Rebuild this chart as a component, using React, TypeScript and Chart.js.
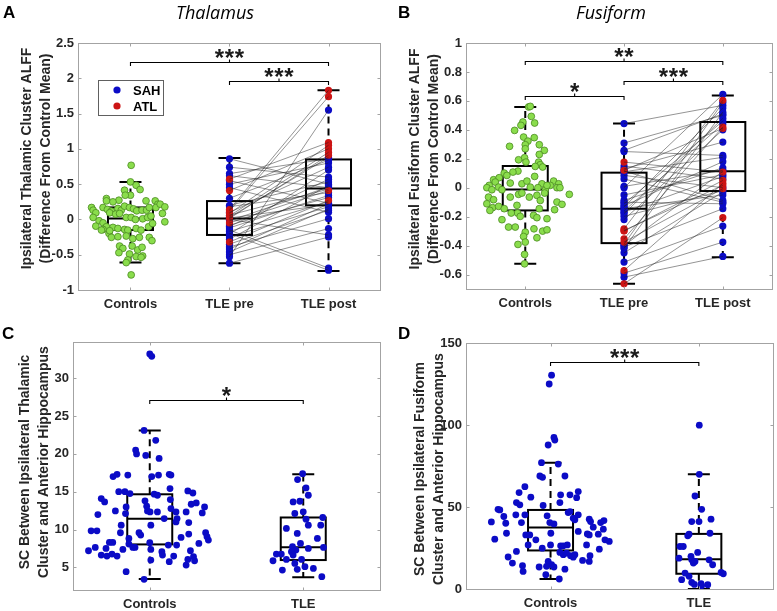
import React, { useEffect, useRef } from 'react';
import { Chart, registerables } from 'chart.js';

Chart.register(...registerables);

// ---------------- data ----------------
const ALFF_GROUPS = ['Controls', 'TLE pre', 'TLE post'];
const SC_GROUPS = ['Controls', 'TLE'];
const LEGEND_LABELS = ['SAH', 'ATL'];

const thalYTicks = [-1, -0.5, 0, 0.5, 1, 1.5, 2, 2.5];
const fusiYTicks = [-0.6, -0.4, -0.2, 0, 0.2, 0.4, 0.6, 0.8, 1];
const scThalYTicks = [5, 10, 15, 20, 25, 30];
const scFusiYTicks = [0, 50, 100, 150];

// controls: [horizontal jitter, value]
const thalControls = [
  [0.007, 0.767], [0, 0.532], [0.057, 0.484], [0.097, 0.423], [-0.06, 0.414], [0, 0.343], [-0.053, 0.343],
  [-0.117, 0.272], [-0.243, 0.296], [-0.243, 0.263], [-0.177, 0.249], [0.157, 0.263], [0.25, 0.263],
  [0.277, 0.216], [0.257, 0.169], [-0.393, 0.169], [-0.377, 0.131], [-0.35, 0.094], [-0.377, 0.028],
  [-0.277, 0.169], [-0.233, 0.141], [-0.193, 0.117], [-0.127, 0.155], [-0.093, 0.131], [-0.06, 0.188],
  [-0.01, 0.169], [0.03, 0.15], [0.063, 0.122], [0.117, 0.131], [0.163, 0.131], [0.19, 0.169],
  [-0.21, 0.094], [-0.15, 0.075], [-0.11, 0.084], [-0.043, 0.028], [0.007, 0.028], [0.05, 0.0],
  [0.123, 0.009], [0.173, 0.028], [0.207, 0.047], [-0.317, -0.019], [-0.35, -0.095], [-0.277, -0.048],
  [-0.243, -0.104], [-0.277, -0.142], [-0.217, -0.198], [-0.177, -0.113], [-0.127, -0.128], [-0.06, -0.142],
  [-0.027, -0.151], [0.057, -0.128], [0.107, -0.151], [0.183, -0.104], [0.223, -0.057], [-0.21, -0.16],
  [-0.293, -0.151], [-0.193, -0.254], [-0.127, -0.245], [-0.043, -0.235], [0.023, -0.273], [0.09, -0.254],
  [0.19, -0.254], [0.217, -0.301], [-0.11, -0.377], [-0.077, -0.41], [0.017, -0.377], [0.073, -0.433],
  [0.117, -0.395], [-0.117, -0.471], [-0.01, -0.49], [0.057, -0.527], [0.123, -0.518], [-0.027, -0.574],
  [0.107, -0.537], [-0.043, -0.612], [0.007, -0.786], [0.3, 0.216], [0.347, 0.178], [0.323, 0.085],
  [0.347, -0.034],
];
const thalPreATL = [0.14, 0.12, 0.57, 0.085, 0.41, 0.05, 0.014, -0.05, -0.32];
const thalPostATL = [1.83, 1.74, 1.09, 1.05, 1.0, 0.95, 0.91, 0.41, 0.27];
const thalPreSAH = [0.86, 0.74, 0.65, 0.62, 0.55, 0.5, 0.45, 0.3, 0.2, 0.18, 0.1, 0.06, 0.03, 0.02, 0.0, -0.02,
  -0.08, -0.1, -0.12, -0.15, -0.17, -0.2, -0.21, -0.25, -0.28, -0.35, -0.39, -0.42, -0.46, -0.5, -0.53, -0.62];
const thalPostSAH = [0.5, 0.6, 0.86, 0.45, 0.23, 0.8, 0.1, 0.84, 0.53, 0.38, 0.74, 0.43, 0.88, 0.21, -0.22, 0.46,
  0.31, 0.57, 0.34, -0.69, 0.25, -0.72, 0.7, 0.18, 0.48, 0.13, 0.01, 0.22, 0.15, -0.13, 1.55, -0.25];
// [lower whisker, q1, median, q3, upper whisker]
const thalBoxes = [
  [-0.61, -0.15, 0.014, 0.17, 0.53],
  [-0.62, -0.22, 0.014, 0.26, 0.87],
  [-0.73, 0.2, 0.44, 0.85, 1.83],
];
const thalSig = [
  { from: 1, to: 3, y: 2.236, stars: '***' },
  { from: 2, to: 3, y: 1.967, stars: '***' },
];

const fusiControls = [
  [0.034, 0.558], [0.051, 0.562], [0.061, 0.493], [-0.024, 0.454], [-0.044, 0.431], [0.095, 0.447],
  [-0.108, 0.396], [-0.017, 0.35], [0.091, 0.346], [0.027, 0.322], [0, 0.297], [-0.159, 0.286], [0.142, 0.297],
  [0, 0.269], [0.193, 0.258], [0.142, 0.23], [-0.007, 0.207], [-0.068, 0.193], [0.007, 0.177], [0.135, 0.177],
  [0.152, 0.159], [0.101, 0.147], [0.176, 0.143], [-0.213, 0.101], [-0.074, 0.115], [-0.125, 0.108],
  [-0.186, 0.085], [0.095, 0.078], [-0.321, 0.055], [-0.264, 0.069], [-0.304, 0.039], [-0.152, 0.032],
  [-0.034, 0.027], [0.017, 0.046], [0.169, 0.027], [0.287, 0.046], [0.338, 0.027], [-0.365, 0.016],
  [-0.389, 0.0], [-0.338, -0.014], [-0.27, 0.004], [-0.236, -0.014], [0.051, 0.004], [0.128, 0.0],
  [0.203, -0.014], [0.253, 0.016], [0.321, 0.0], [0.351, 0.0], [0.22, 0.016], [0.446, -0.046],
  [-0.372, -0.065], [-0.321, -0.083], [-0.389, -0.111], [-0.331, -0.138], [-0.358, -0.157], [-0.27, -0.129],
  [-0.213, -0.145], [-0.152, -0.065], [-0.068, -0.046], [-0.034, -0.037], [0.041, -0.065], [0.118, -0.053],
  [0.152, -0.088], [0.196, -0.037], [0.321, -0.099], [0.372, -0.115], [0.297, -0.152], [-0.084, -0.122],
  [0.142, -0.145], [-0.078, -0.175], [-0.142, -0.175], [-0.051, -0.198], [0.084, -0.191], [0.118, -0.207],
  [-0.236, -0.221], [0.22, -0.214], [-0.169, -0.272], [-0.101, -0.272], [0.088, -0.284], [0.176, -0.3],
  [0.22, -0.291], [0, -0.307], [-0.017, -0.337], [0.118, -0.346], [-0.074, -0.392], [0, -0.376],
  [-0.007, -0.461], [-0.007, -0.526],
];
const fusiPreATL = [0.177, 0.12, -0.284, -0.295, -0.3, -0.353, -0.376, -0.572, -0.664];
const fusiPostATL = [0.108, 0.41, 0.604, 0.016, 0.05, 0.419, -0.007, 0.03, -0.207];
const fusiPreSAH = [0.443, 0.309, 0.258, 0.25, 0.15, 0.13, 0.115, 0.11, 0.085, 0.06, 0.009, 0.0, -0.05, -0.088,
  -0.1, -0.111, -0.125, -0.134, -0.145, -0.16, -0.169, -0.18, -0.198, -0.22, -0.392, -0.4, -0.41, -0.42, -0.45,
  -0.514, -0.59, -0.618];
const fusiPostSAH = [0.569, 0.5, 0.51, 0.223, 0.06, 0.315, -0.088, 0.21, 0.0, -0.1, 0.12, 0.645, 0.09, 0.138,
  -0.111, 0.46, 0.18, 0.55, -0.05, 0.44, 0.078, 0.48, -0.02, 0.4, 0.59, 0.113, -0.145, 0.523, -0.03, -0.265,
  -0.376, -0.475];
const fusiBoxes = [
  [-0.526, -0.157, -0.012, 0.15, 0.557],
  [-0.664, -0.383, -0.145, 0.104, 0.443],
  [-0.48, -0.023, 0.113, 0.454, 0.638],
];
const fusiSig = [
  { from: 1, to: 3, y: 0.873, stars: '**' },
  { from: 1, to: 2, y: 0.631, stars: '*' },
  { from: 2, to: 3, y: 0.735, stars: '***' },
];

const scThalControls = [
  [0, 33.21], [0.013, 32.9], [-0.037, 23.1], [0.039, 21.8], [-0.092, 20.5], [-0.086, 20.0], [-0.026, 19.8],
  [0.061, 19.4], [-0.239, 17.0], [-0.213, 17.3], [-0.143, 17.2], [0.013, 17.0], [0.057, 17.2], [0.127, 17.3],
  [0.138, 17.2], [-0.202, 15.0], [-0.162, 15.0], [-0.129, 14.75], [0.029, 14.67], [0.05, 14.53], [0.132, 15.41],
  [0.248, 15.1], [0.281, 14.83], [-0.316, 14.09], [-0.294, 13.65], [-0.154, 12.99], [-0.224, 12.46],
  [-0.338, 11.98], [-0.031, 13.79], [-0.02, 13.08], [-0.015, 12.46], [0.002, 12.33], [0.05, 12.33],
  [0.134, 13.96], [0.138, 12.77], [0.171, 12.33], [0.094, 11.45], [0.178, 11.45], [0.171, 11.01],
  [0.237, 12.33], [0.27, 13.34], [0.303, 13.52], [0.357, 12.99], [0.342, 12.2], [-0.158, 12.11],
  [0.254, 10.92], [-0.186, 10.57], [0.007, 10.57], [-0.382, 9.83], [-0.344, 9.83], [-0.191, 9.57],
  [-0.07, 9.57], [-0.059, 9.26], [-0.136, 8.82], [0.204, 8.95], [0.254, 9.39], [0.364, 9.57], [0.373, 9.04],
  [0.382, 8.6], [-0.263, 8.29], [-0.241, 8.29], [-0.136, 8.07], [-0.096, 7.63], [0, 8.25], [0.121, 7.94],
  [0.175, 7.94], [0.32, 8.16], [-0.399, 7.19], [-0.355, 7.63], [-0.285, 7.5], [-0.316, 6.62], [-0.279, 6.49],
  [-0.246, 6.75], [-0.213, 6.49], [-0.175, 7.37], [-0.11, 7.63], [0.007, 7.37], [0.079, 7.06], [0.083, 6.62],
  [0.156, 6.49], [0.127, 5.74], [0.237, 5.3], [0.265, 7.19], [0.248, 6.04], [0.285, 6.4], [0.292, 5.87],
  [0.007, 5.96], [-0.154, 4.42], [-0.037, 3.41],
];
const scThalTLE = [
  [-0.004, 17.39], [-0.037, 16.6], [0.018, 15.5], [0.033, 14.53], [-0.066, 13.65], [-0.022, 13.74],
  [-0.055, 12.12], [0, 12.34], [0.018, 11.37], [0.127, 11.59], [-0.11, 10.14], [0.033, 10.58], [0.114, 10.58],
  [-0.039, 9.48], [0.092, 8.82], [-0.018, 8.16], [-0.07, 7.72], [0.132, 7.63], [0.033, 7.5], [-0.048, 7.28],
  [-0.077, 7.06], [-0.066, 6.62], [-0.175, 6.75], [-0.143, 6.75], [-0.011, 6.05], [-0.197, 5.87],
  [-0.11, 6.05], [-0.055, 5.52], [-0.136, 4.64], [-0.039, 4.73], [0.011, 5.08], [0.066, 4.86], [0.121, 3.76],
];
const scThalBoxes = [
  [3.45, 8.03, 11.41, 14.66, 23.1],
  [3.7, 5.96, 7.67, 11.59, 17.3],
];
const scThalSig = [{ from: 1, to: 2, y: 27.15, stars: '*' }];

const scFusiControls = [
  [0.007, 130.4], [-0.009, 125.0], [0.023, 92.4], [0.029, 90.8], [-0.016, 87.8], [-0.061, 77.0], [0.052, 76.2],
  [-0.072, 68.9], [-0.054, 68.1], [0.097, 68.9], [-0.173, 62.4], [-0.212, 58.8], [-0.133, 56.0], [0.187, 59.4],
  [0.068, 57.4], [0.131, 57.4], [-0.23, 52.7], [-0.207, 51.3], [-0.05, 50.9], [0.063, 52.7], [0.176, 55.7],
  [-0.354, 48.6], [-0.342, 48.2], [-0.315, 44.2], [-0.234, 45.2], [-0.173, 45.2], [-0.196, 40.5],
  [-0.399, 40.9], [-0.302, 40.1], [-0.023, 44.6], [-0.005, 40.5], [0.023, 39.7], [0.119, 46.6], [0.131, 47.2],
  [0.164, 42.2], [0.153, 43.2], [0.187, 45.2], [0.261, 42.6], [0.27, 41.1], [0.288, 37.7], [0.338, 40.5],
  [0.36, 41.7], [0.356, 36.5], [-0.376, 30.4], [-0.297, 34.0], [-0.167, 33.0], [-0.14, 33.0], [-0.099, 30.0],
  [0.002, 34.0], [0.187, 35.1], [0.248, 33.6], [0.261, 33.0], [0.322, 33.4], [0.367, 30.0], [0.396, 29.0],
  [-0.151, 26.9], [-0.056, 24.9], [0, 26.9], [0.068, 26.3], [0.086, 26.3], [0.113, 26.9], [0.243, 26.9],
  [0.329, 24.3], [-0.23, 22.9], [-0.286, 19.5], [-0.257, 15.8], [-0.189, 14.2], [-0.016, 16.8], [0.007, 14.8],
  [0.023, 13.4], [0.086, 20.9], [0.135, 20.3], [0.153, 19.4], [0.164, 20.9], [0.108, 21.9], [0.063, 22.3],
  [0.216, 17.4], [0.261, 16.8], [0.266, 20.3], [0.097, 12.1], [-0.077, 13.4], [-0.185, 10.7], [-0.032, 8.7],
  [0.059, 6.1], [-0.027, 13.8],
];
const scFusiTLE = [
  [0.003, 99.9], [0.003, 69.9], [-0.026, 56.7], [0.019, 48.6], [-0.048, 41.1], [0.001, 41.1], [0.082, 42.6],
  [0.075, 34.0], [-0.075, 32.4], [-0.066, 33.4], [-0.127, 25.9], [-0.105, 25.9], [-0.008, 22.3],
  [-0.134, 18.8], [-0.053, 19.9], [-0.048, 17.8], [-0.026, 16.8], [-0.037, 15.8], [0.069, 17.8], [0.093, 14.8],
  [0.15, 10.1], [0.165, 9.3], [-0.116, 5.7], [-0.066, 7.7], [-0.048, 4.0], [-0.03, 2.8], [0.015, 3.2],
  [0.06, 2.6], [0.019, 2.0], [-0.093, 9.7],
];
const scFusiBoxes = [
  [6.1, 23.5, 37.5, 48.2, 77.0],
  [0, 9.3, 18.2, 33.6, 70.0],
];
const scFusiSig = [{ from: 1, to: 2, y: 138.4, stars: '***' }];

// ---------------- style ----------------
const FONT = '"Liberation Sans", Arial, Helvetica, sans-serif';
const TEXT = '#262626';
const FRAME = '#a3a3a3';
const GREEN = '#8add4c';
const GREEN_EDGE = '#4b8a22';
const BLUE = '#0b0bc6';
const RED = '#cc1414';

type Spec = {
  key: string;
  pos: { left: number; top: number; width: number; height: number };
  area: { l: number; t: number; r: number; b: number };
  xMin: number; xMax: number; yMin: number; yMax: number;
  yTicks: number[]; xLabels: string[];
  datasets: any[];
  boxes: number[][];
  sig: { from: number; to: number; y: number; stars: string }[];
  letter: string; letterPos: [number, number];
  title?: string; titlePos?: [number, number];
  ylabel: string[]; ylabelX: number; ylabelDy: number;
  legend?: boolean;
};

function pts(center: number, arr: number[][]) {
  return arr.map(([dx, v]) => ({ x: center + dx, y: v }));
}

function pairedDatasets(preA: number[], postA: number[], preS: number[], postS: number[]) {
  const ds: any[] = [];
  const addLines = (pre: number[], post: number[]) => {
    pre.forEach((v, i) => {
      ds.push({
        data: [{ x: 2, y: v }, { x: 3, y: post[i] }],
        showLine: true, borderColor: 'rgba(30,30,30,0.8)', borderWidth: 0.6,
        pointRadius: 0, order: 0,
      });
    });
  };
  addLines(preS, postS);
  addLines(preA, postA);
  const dot = (data: any[], color: string, order: number) => ({
    data, pointRadius: 3.6, backgroundColor: color, borderColor: color, borderWidth: 0, order,
  });
  ds.push(dot(preS.map((v) => ({ x: 2, y: v })), BLUE, 2));
  ds.push(dot(postS.map((v) => ({ x: 3, y: v })), BLUE, 2));
  ds.push(dot(preA.map((v) => ({ x: 2, y: v })), RED, 1));
  ds.push(dot(postA.map((v) => ({ x: 3, y: v })), RED, 1));
  return ds;
}

const greenSet = (arr: number[][]) => ({
  data: pts(1, arr), pointRadius: 3.4, backgroundColor: GREEN, borderColor: GREEN_EDGE, borderWidth: 0.8, order: 3,
});
const blueSet = (center: number, arr: number[][]) => ({
  data: pts(center, arr), pointRadius: 3.4, backgroundColor: BLUE, borderColor: BLUE, borderWidth: 0, order: 3,
});

const SPECS: Spec[] = [
  {
    key: 'A',
    pos: { left: 0, top: 0, width: 388, height: 312 },
    area: { l: 78, t: 43, r: 380, b: 290 },
    xMin: 0.47, xMax: 3.52, yMin: -1, yMax: 2.5,
    yTicks: thalYTicks, xLabels: ALFF_GROUPS,
    datasets: [greenSet(thalControls), ...pairedDatasets(thalPreATL, thalPostATL, thalPreSAH, thalPostSAH)],
    boxes: thalBoxes, sig: thalSig,
    letter: 'A', letterPos: [3, 18],
    title: 'Thalamus', titlePos: [215, 14],
    ylabel: ['Ipsilateral Thalamic Cluster ALFF', '(Difference From Control Mean)'], ylabelX: -51, ylabelDy: -8,
    legend: true,
  },
  {
    key: 'B',
    pos: { left: 388, top: 0, width: 389, height: 312 },
    area: { l: 78, t: 43, r: 385, b: 289 },
    xMin: 0.4, xMax: 3.5, yMin: -0.7, yMax: 1,
    yTicks: fusiYTicks, xLabels: ALFF_GROUPS,
    datasets: [greenSet(fusiControls), ...pairedDatasets(fusiPreATL, fusiPostATL, fusiPreSAH, fusiPostSAH)],
    boxes: fusiBoxes, sig: fusiSig,
    letter: 'B', letterPos: [10, 18],
    title: 'Fusiform', titlePos: [223, 14],
    ylabel: ['Ipsilateral Fusiform Cluster ALFF', '(Difference From Control Mean)'], ylabelX: -51, ylabelDy: -7,
  },
  {
    key: 'C',
    pos: { left: 0, top: 312, width: 388, height: 299 },
    area: { l: 73, t: 30, r: 380, b: 278 },
    xMin: 0.5, xMax: 2.5, yMin: 2, yMax: 34.8,
    yTicks: scThalYTicks, xLabels: SC_GROUPS,
    datasets: [blueSet(1, scThalControls), blueSet(2, scThalTLE)],
    boxes: scThalBoxes, sig: scThalSig,
    letter: 'C', letterPos: [2, 27],
    ylabel: ['SC Between Ipsilateral Thalamic', 'Cluster and Anterior Hippocampus'], ylabelX: -48, ylabelDy: -4,
  },
  {
    key: 'D',
    pos: { left: 388, top: 312, width: 389, height: 299 },
    area: { l: 78, t: 31, r: 385, b: 277 },
    xMin: 0.43, xMax: 2.5, yMin: 0, yMax: 150,
    yTicks: scFusiYTicks, xLabels: SC_GROUPS,
    datasets: [blueSet(1, scFusiControls), blueSet(2, scFusiTLE)],
    boxes: scFusiBoxes, sig: scFusiSig,
    letter: 'D', letterPos: [10, 27],
    ylabel: ['SC Between Ipsilateral Fusiform', 'Cluster and Anterior Hippocampus'], ylabelX: -46, ylabelDy: 3,
  },
];

function decorPlugin(spec: Spec) {
  return {
    id: 'decor' + spec.key,
    beforeDatasetsDraw(chart: any) {
      const { ctx } = chart;
      const xs = chart.scales.x, ys = chart.scales.y;
      ctx.save();
      ctx.strokeStyle = '#000';
      ctx.lineWidth = 2;
      spec.boxes.forEach(([lo, q1, med, q3, hi], i) => {
        const cx = xs.getPixelForValue(i + 1);
        const yLo = ys.getPixelForValue(lo), yQ1 = ys.getPixelForValue(q1), yMed = ys.getPixelForValue(med);
        const yQ3 = ys.getPixelForValue(q3), yHi = ys.getPixelForValue(hi);
        ctx.setLineDash([7, 5]);
        ctx.beginPath();
        ctx.moveTo(cx, yQ3); ctx.lineTo(cx, yHi);
        ctx.moveTo(cx, yQ1); ctx.lineTo(cx, yLo);
        ctx.stroke();
        ctx.setLineDash([]);
        ctx.beginPath();
        ctx.moveTo(cx - 11, yHi); ctx.lineTo(cx + 11, yHi);
        ctx.moveTo(cx - 11, yLo); ctx.lineTo(cx + 11, yLo);
        ctx.moveTo(cx - 22.5, yMed); ctx.lineTo(cx + 22.5, yMed);
        ctx.stroke();
        ctx.strokeRect(cx - 22.5, yQ3, 45, yQ1 - yQ3);
      });
      ctx.restore();
    },
    afterDatasetsDraw(chart: any) {
      const { ctx } = chart;
      const xs = chart.scales.x, ys = chart.scales.y;
      ctx.save();
      ctx.strokeStyle = '#000';
      ctx.fillStyle = '#1a1a1a';
      ctx.lineWidth = 1.1;
      spec.sig.forEach((s) => {
        const x1 = xs.getPixelForValue(s.from), x2 = xs.getPixelForValue(s.to);
        const y = Math.round(ys.getPixelForValue(s.y)) + 0.5;
        const xm = (x1 + x2) / 2;
        ctx.beginPath();
        ctx.moveTo(x1, y + 3.5); ctx.lineTo(x1, y); ctx.lineTo(x2, y); ctx.lineTo(x2, y + 3.5);
        ctx.moveTo(xm, y); ctx.lineTo(xm, y - 3);
        ctx.stroke();
        ctx.font = `bold 24px ${FONT}`;
        ctx.textAlign = 'center';
        ctx.textBaseline = 'alphabetic';
        const n = s.stars.length;
        for (let k = 0; k < n; k++) {
          const x = xm + (k - (n - 1) / 2) * 10;
          ctx.fillText('*', x, y - 10 + 13.5);
        }
      });
      if (spec.legend) {
        const lx = 98, ly = 80, lw = 65, lh = 35;
        ctx.fillStyle = '#fff';
        ctx.fillRect(lx, ly, lw, lh);
        ctx.strokeStyle = '#606060';
        ctx.lineWidth = 1;
        ctx.strokeRect(lx + 0.5, ly + 0.5, lw, lh);
        const colors = [BLUE, RED];
        LEGEND_LABELS.forEach((lab, i) => {
          const yy = ly + 10 + i * 16;
          ctx.fillStyle = colors[i];
          ctx.beginPath();
          ctx.arc(lx + 19, yy, 3.6, 0, Math.PI * 2);
          ctx.fill();
          ctx.fillStyle = '#000';
          ctx.font = `bold 13px ${FONT}`;
          ctx.textAlign = 'left';
          ctx.textBaseline = 'middle';
          ctx.fillText(lab, lx + 35, yy + 1);
        });
      }
      ctx.restore();
    },
    afterDraw(chart: any) {
      const { ctx, chartArea } = chart;
      const xs = chart.scales.x, ys = chart.scales.y;
      const { left, right, top, bottom } = chartArea;
      ctx.save();
      ctx.strokeStyle = FRAME;
      ctx.lineWidth = 1;
      const L = Math.round(left) + 0.5, R = Math.round(right) + 0.5, T = Math.round(top) + 0.5, B = Math.round(bottom) + 0.5;
      ctx.strokeRect(L, T, R - L, B - T);
      ctx.beginPath();
      ys.ticks.forEach((t: any) => {
        const y = Math.round(ys.getPixelForValue(t.value)) + 0.5;
        ctx.moveTo(L, y); ctx.lineTo(L + 3, y);
        ctx.moveTo(R, y); ctx.lineTo(R - 3, y);
      });
      xs.ticks.forEach((t: any) => {
        const x = Math.round(xs.getPixelForValue(t.value)) + 0.5;
        ctx.moveTo(x, B); ctx.lineTo(x, B - 3);
        ctx.moveTo(x, T); ctx.lineTo(x, T + 3);
      });
      ctx.stroke();

      // y-axis title
      ctx.fillStyle = TEXT;
      ctx.font = `bold 14px ${FONT}`;
      ctx.textAlign = 'center';
      ctx.textBaseline = 'middle';
      ctx.translate(left + spec.ylabelX, (top + bottom) / 2 + spec.ylabelDy);
      ctx.rotate(-Math.PI / 2);
      spec.ylabel.forEach((line, i) => ctx.fillText(line, 0, i * 19));
      ctx.restore();

      ctx.save();
      ctx.fillStyle = '#000';
      ctx.font = `bold 17px ${FONT}`;
      ctx.textAlign = 'left';
      ctx.textBaseline = 'alphabetic';
      ctx.fillText(spec.letter, spec.letterPos[0], spec.letterPos[1]);
      if (spec.title && spec.titlePos) {
        ctx.font = `italic 18px "Open Sans", ${FONT}`;
        ctx.textAlign = 'center';
        ctx.textBaseline = 'middle';
        ctx.fillText(spec.title, spec.titlePos[0], spec.titlePos[1]);
      }
      ctx.restore();
    },
  };
}

function Panel({ spec }: { spec: Spec }) {
  const ref = useRef<HTMLCanvasElement | null>(null);
  useEffect(() => {
    if (!ref.current) return;
    const { width, height } = spec.pos;
    const a = spec.area;
    const chart = new Chart(ref.current, {
      type: 'scatter',
      data: { datasets: spec.datasets },
      options: {
        animation: false,
        responsive: false,
        maintainAspectRatio: false,
        devicePixelRatio: 1,
        events: [],
        layout: { padding: { left: 0, top: a.t, right: width - a.r, bottom: 0 } },
        plugins: { legend: { display: false }, tooltip: { enabled: false } },
        scales: {
          x: {
            type: 'linear', position: 'bottom', min: spec.xMin, max: spec.xMax,
            grid: { display: false, drawTicks: false }, border: { display: false },
            afterFit: (s: any) => { s.height = height - a.b; },
            afterBuildTicks: (s: any) => { s.ticks = spec.xLabels.map((_, i) => ({ value: i + 1 })); },
            ticks: {
              autoSkip: false, maxRotation: 0, minRotation: 0, padding: 7, color: TEXT,
              font: { family: FONT, size: 13, weight: 'bold' },
              callback: (v: any) => spec.xLabels[Math.round(Number(v)) - 1] ?? '',
            },
          },
          y: {
            type: 'linear', position: 'left', min: spec.yMin, max: spec.yMax,
            grid: { display: false, drawTicks: false }, border: { display: false },
            afterFit: (s: any) => { s.width = a.l; },
            afterBuildTicks: (s: any) => { s.ticks = spec.yTicks.map((v) => ({ value: v })); },
            ticks: {
              padding: 4, color: TEXT,
              font: { family: FONT, size: 13, weight: 'bold' },
              callback: (v: any) => String(v),
            },
          },
        },
      } as any,
      plugins: [decorPlugin(spec)],
    });
    return () => chart.destroy();
  }, [spec]);
  const { left, top, width, height } = spec.pos;
  return (
    <canvas
      ref={ref}
      width={width}
      height={height}
      style={{ position: 'absolute', left, top, width, height }}
    />
  );
}

export default function App() {
  return (
    <div style={{ position: 'absolute', left: 0, top: 0, width: 777, height: 611, background: '#fff', overflow: 'hidden' }}>
      {SPECS.map((s) => (
        <Panel key={s.key} spec={s} />
      ))}
    </div>
  );
}
